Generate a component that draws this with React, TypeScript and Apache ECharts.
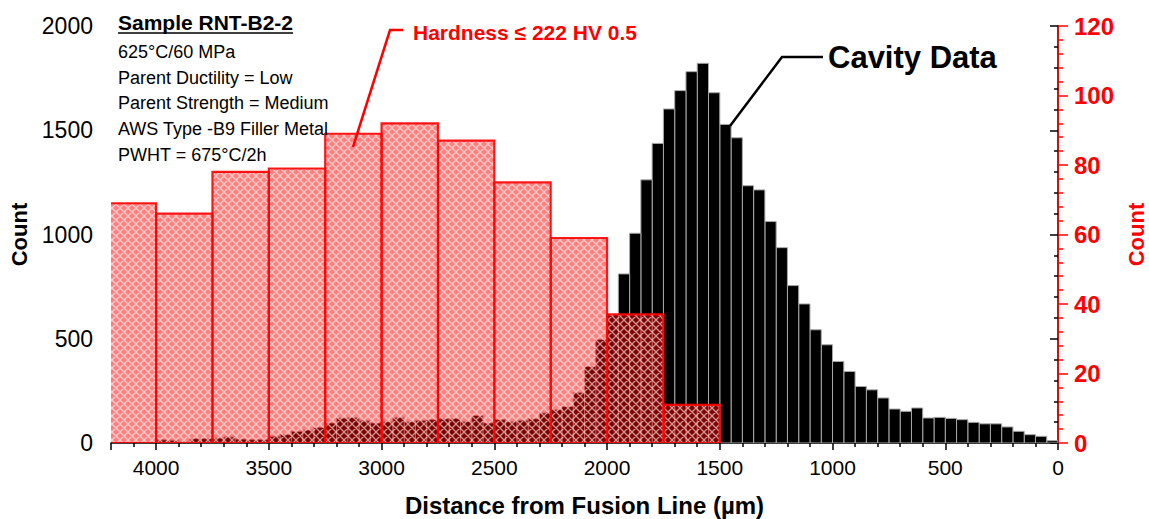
import React, { useEffect, useRef } from "react";
import * as echarts from "echarts";

// Cavity histogram: 50 µm bins, index 0 covers 0–50 µm from the fusion line
const cavityBinWidth = 50;
const cavityCounts = [
  11, 32, 40, 56, 77, 92, 92, 99, 112, 118,
  123, 120, 168, 152, 163, 216, 255, 271, 343, 391,
  471, 543, 667, 755, 937, 1062, 1214, 1234, 1464, 1528,
  1680, 1821, 1781, 1690, 1602, 1437, 1262, 1006, 811, 615,
  497, 367, 242, 175, 160, 144, 116, 108, 102, 112,
  96, 132, 104, 118, 116, 112, 108, 102, 123, 102,
  96, 106, 122, 120, 96, 75, 62, 56, 40, 32,
  16, 16, 19, 29, 24, 21, 21, 5, 13, 15,
];

// Hardness (≤ 222 HV 0.5) histogram: 250 µm bins
const hardnessBinWidth = 250;
const hardnessBinStarts = [1500, 1750, 2000, 2250, 2500, 2750, 3000, 3250, 3500, 3750, 4000];
const hardnessCounts = [11, 37, 59, 75, 87, 92, 89, 79, 78, 66, 69];

// Axis ranges
const distanceRange = { min: 0, max: 4200, step: 500 };
const cavityRange = { min: 0, max: 2000, step: 500 };
const hardnessRange = { min: 0, max: 120, step: 20 };

const sampleInfo = [
  "625°C/60 MPa",
  "Parent Ductility = Low",
  "Parent Strength = Medium",
  "AWS Type -B9 Filler Metal",
  "PWHT = 675°C/2h",
];

const FONT = '"Liberation Sans", Arial, Helvetica, sans-serif';

function makeHatch(): HTMLCanvasElement {
  const s = 8;
  const c = document.createElement("canvas");
  c.width = s;
  c.height = s;
  const ctx = c.getContext("2d")!;
  ctx.fillStyle = "rgba(255,0,0,0.5)";
  ctx.fillRect(0, 0, s, s);
  ctx.strokeStyle = "rgba(255,255,255,0.6)";
  ctx.lineWidth = 1.3;
  ctx.beginPath();
  for (const o of [-s, 0, s]) {
    ctx.moveTo(-1 + o, -1);
    ctx.lineTo(s + 1 + o, s + 1);
    ctx.moveTo(s + 1 + o, -1);
    ctx.lineTo(-1 + o, s + 1);
  }
  ctx.stroke();
  return c;
}

function textWidth(text: string, font: string): number {
  const ctx = document.createElement("canvas").getContext("2d")!;
  ctx.font = font;
  return ctx.measureText(text).width;
}

const plain = (v: number) => String(v);

export default function App() {
  const ref = useRef<HTMLDivElement>(null);

  useEffect(() => {
    if (!ref.current) return;
    const chart = echarts.init(ref.current, undefined, { renderer: "svg" });
    const hatch = makeHatch();

    const cavityData = cavityCounts.map((c, i) => [i * cavityBinWidth, (i + 1) * cavityBinWidth, c]);
    const hardnessData = hardnessBinStarts.map((s, i) => [s, s + hardnessBinWidth, hardnessCounts[i]]);

    const barRect = (api: any) => {
      const p0 = api.coord([api.value(0), api.value(2)]);
      const p1 = api.coord([api.value(1), 0]);
      return {
        x: Math.min(p0[0], p1[0]),
        y: Math.min(p0[1], p1[1]),
        width: Math.abs(p1[0] - p0[0]),
        height: Math.abs(p1[1] - p0[1]),
      };
    };

    const titleFont = `bold 21px ${FONT}`;
    const titleText = "Sample RNT-B2-2";
    const titleW = textWidth(titleText, titleFont);

    const tickStyle = { color: "#000", width: 1.5 };
    const redTickStyle = { color: "#ff0000", width: 1.5 };

    chart.setOption({
      animation: false,
      backgroundColor: "#fff",
      grid: { left: 111, right: 91, top: 26, bottom: 76, containLabel: false, outerBoundsMode: "none" },
      xAxis: {
        type: "value",
        min: distanceRange.min,
        max: distanceRange.max,
        interval: distanceRange.step,
        inverse: true,
        name: "Distance from Fusion Line (µm)",
        nameLocation: "middle",
        nameGap: 50,
        nameTextStyle: { fontFamily: FONT, fontWeight: "bold", fontSize: 24, lineHeight: 24, color: "#000" },
        axisLine: { show: true, onZero: false, lineStyle: tickStyle },
        axisTick: { show: true, length: 7, lineStyle: tickStyle },
        minorTick: { show: true, splitNumber: 5, length: 4, lineStyle: tickStyle },
        axisLabel: { fontFamily: FONT, fontSize: 21, color: "#000", margin: 14, showMaxLabel: false, formatter: plain },
        splitLine: { show: false },
      },
      yAxis: [
        {
          type: "value",
          position: "left",
          min: cavityRange.min,
          max: cavityRange.max,
          interval: cavityRange.step,
          name: "Count",
          nameLocation: "middle",
          nameRotate: 90,
          nameGap: 78,
          nameTextStyle: { fontFamily: FONT, fontWeight: "bold", fontSize: 22, color: "#000" },
          axisLine: { show: true, lineStyle: tickStyle },
          axisTick: { show: true, length: 8, lineStyle: tickStyle },
          minorTick: { show: true, splitNumber: 5, length: 4, lineStyle: tickStyle },
          axisLabel: { fontFamily: FONT, fontSize: 23, color: "#000", margin: 18, formatter: plain },
          splitLine: { show: false },
        },
        {
          type: "value",
          position: "right",
          min: hardnessRange.min,
          max: hardnessRange.max,
          interval: hardnessRange.step,
          name: "Count",
          nameLocation: "middle",
          nameRotate: 90,
          nameGap: 67,
          nameTextStyle: { fontFamily: FONT, fontWeight: "bold", fontSize: 22, color: "#ff0000" },
          axisLine: { show: true, lineStyle: redTickStyle },
          axisTick: { show: true, length: 10, lineStyle: redTickStyle },
          minorTick: { show: true, splitNumber: 5, length: 5, lineStyle: redTickStyle },
          axisLabel: { fontFamily: FONT, fontSize: 24, fontWeight: "bold", color: "#ff0000", margin: 16, formatter: plain },
          splitLine: { show: false },
        },
      ],
      series: [
        {
          name: "Cavity Data",
          type: "custom",
          xAxisIndex: 0,
          yAxisIndex: 0,
          clip: true,
          encode: { x: [0, 1], y: 2 },
          data: cavityData,
          renderItem: (_p: any, api: any) => ({
            type: "rect",
            shape: barRect(api),
            style: { fill: "#000", stroke: "#a8a8a8", lineWidth: 1 },
          }),
        },
        {
          name: "Hardness ≤ 222 HV 0.5",
          type: "custom",
          xAxisIndex: 0,
          yAxisIndex: 1,
          clip: true,
          encode: { x: [0, 1], y: 2 },
          data: hardnessData,
          renderItem: (_p: any, api: any) => ({
            type: "rect",
            shape: barRect(api),
            style: {
              fill: { image: hatch, repeat: "repeat", imageWidth: 8, imageHeight: 8 },
              stroke: "rgba(255,0,0,0.9)",
              lineWidth: 2.2,
            },
          }),
        },
      ],
      graphic: [
        {
          type: "text",
          x: 118,
          y: 22,
          z: 10,
          style: { text: titleText, font: titleFont, fill: "#000", verticalAlign: "middle" },
        },
        {
          type: "line",
          z: 10,
          shape: { x1: 118, y1: 33, x2: 118 + titleW, y2: 33 },
          style: { stroke: "#000", lineWidth: 1.5 },
        },
        ...sampleInfo.map((t, i) => ({
          type: "text",
          x: 118,
          y: 52 + i * 25.7,
          z: 10,
          style: { text: t, font: `18px ${FONT}`, fill: "#000", verticalAlign: "middle" },
        })),
        {
          type: "polyline",
          z: 10,
          shape: { points: [[403, 30], [390, 30], [353, 147]] },
          style: { stroke: "#ff0000", lineWidth: 2.5, fill: "none" },
        },
        {
          type: "text",
          x: 413,
          y: 32,
          z: 10,
          style: { text: "Hardness ≤ 222 HV 0.5", font: `bold 21px ${FONT}`, fill: "#ff0000", verticalAlign: "middle" },
        },
        {
          type: "polyline",
          z: 10,
          shape: { points: [[823, 57], [782, 57], [730, 126]] },
          style: { stroke: "#000", lineWidth: 2.5, fill: "none" },
        },
        {
          type: "text",
          x: 828,
          y: 57,
          z: 10,
          style: { text: "Cavity Data", font: `bold 31px ${FONT}`, fill: "#000", verticalAlign: "middle" },
        },
      ],
    });

    return () => chart.dispose();
  }, []);

  return (
    <div
      ref={ref}
      style={{ position: "absolute", left: 0, top: 0, width: 1149, height: 519, background: "#fff" }}
    />
  );
}
